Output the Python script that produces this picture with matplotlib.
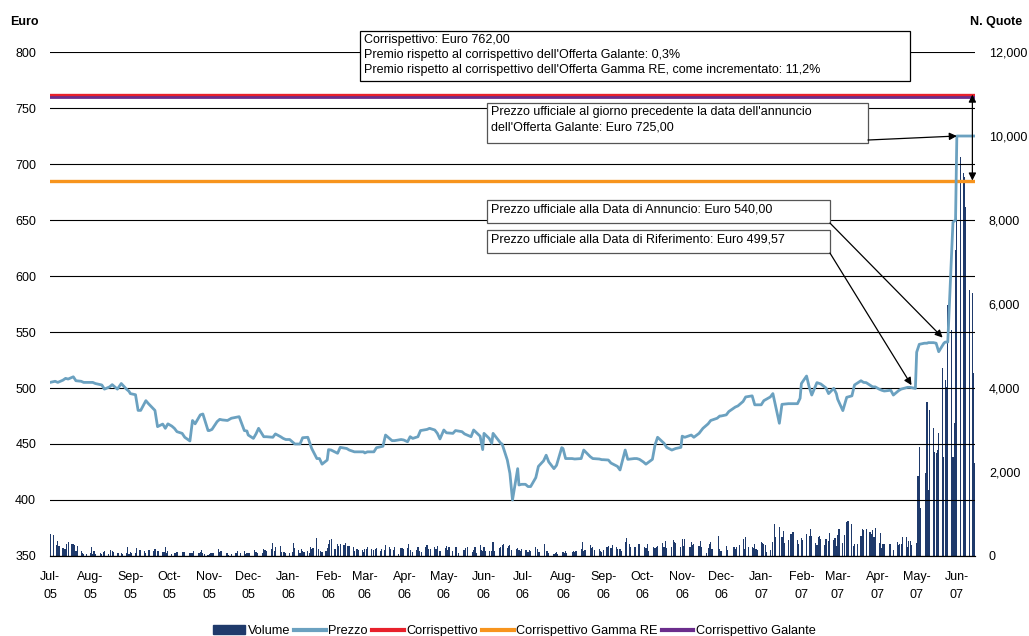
import numpy as np
import pandas as pd
import matplotlib
matplotlib.use("Agg")
import matplotlib.pyplot as plt
import matplotlib.patches as mpatches
from matplotlib.lines import Line2D

plt.rcParams['font.family'] = ['Liberation Sans', 'DejaVu Sans']

# ---- data -----------------------------------------------------------------
month_starts = pd.date_range('2005-07-01', periods=24, freq='MS')
data_end = pd.Timestamp('2007-06-15')
month_labels = ['Jul-\n05', 'Aug-\n05', 'Sep-\n05', 'Oct-\n05', 'Nov-\n05', 'Dec-\n05',
                'Jan-\n06', 'Feb-\n06', 'Mar-\n06', 'Apr-\n06', 'May-\n06', 'Jun-\n06',
                'Jul-\n06', 'Aug-\n06', 'Sep-\n06', 'Oct-\n06', 'Nov-\n06', 'Dec-\n06',
                'Jan-\n07', 'Feb-\n07', 'Mar-\n07', 'Apr-\n07', 'May-\n07', 'Jun-\n07']

# official price (Euro), values spread over the trading days of each month
prezzo = [
    [505, 506, 505, 507, 508.6, 508, 510, 506.5, 506, 505, 505],
    [505, 505, 504, 502.7, 499, 501, 503, 499, 504, 499, 497],
    [495, 494, 480, 480, 488.7, 486, 480, 465.5, 467.8, 464, 468],
    [466, 464, 461, 459.5, 456, 452.7, 471, 468, 476, 476.8, 462],
    [462, 463, 470, 472, 471.5, 471, 473, 474, 474.4, 462, 461.6],
    [458, 455, 459, 464, 456.5, 456.5, 456, 459, 456.5, 455, 454],
    [454, 452, 450, 450, 455.6, 456, 446, 437, 437, 432, 435.7],
    [445, 444.6, 441.7, 447, 446, 444.6, 443, 443, 443],
    [442, 443, 443, 446.7, 448, 458, 453, 453, 454, 453.6],
    [452, 456.5, 455, 456.5, 462, 463, 464, 462.5, 459.5, 454.5],
    [462.5, 460, 459.5, 462, 461, 459, 456.5, 462.5, 457, 445],
    [459.5, 455, 450.6, 459.5, 453.6, 450.6, 450, 435.7, 423.8, 400, 428, 413.4, 414],
    [414, 412, 412, 420, 430, 435, 440, 434, 428, 431, 446.7],
    [446, 437, 437, 436.6, 437, 444.6, 438.7, 437, 436.6, 436],
    [436, 435.7, 433, 430, 426.8, 444.6, 436.3, 437, 437, 436.3],
    [434, 432, 436.3, 449, 456, 450.6, 447, 444.6, 446, 447],
    [457, 456, 458, 456, 459.5, 464, 468, 471, 473, 475],
    [475, 476, 479, 483, 484, 488, 492, 493, 485, 485],
    [485, 488.7, 492, 495, 468.5, 485.4, 486, 486, 486, 490.8],
    [504, 510.7, 501, 493.7, 504.8, 503.6, 500, 495, 499.7, 495],
    [490, 479.8, 491.7, 493, 502.7, 506.5, 505, 504.8, 501, 501],
    [499, 498, 497.3, 498, 493.7, 497.6, 499, 500.6, 500.6, 499.57],
    [532, 539, 540, 540, 540.5, 540.5, 540, 532.4, 540, 541, 541, 648, 650],
    [725, 725, 725, 725, 725, 725, 725, 725, 725, 725, 725],
]

# traded volume (N. Quote), one value per trading day of each month
volume = [
    [520, 500, 0, 250, 360, 240, 190, 170, 170, 290, 330, 290, 290, 260, 120, 240, 120, 70, 50, 0, 50],
    [60, 210, 50, 120, 50, 0, 70, 50, 100, 120, 50, 0, 140, 120, 100, 70, 70, 0, 70, 50, 70, 210, 40],
    [100, 70, 70, 190, 0, 140, 140, 120, 70, 0, 140, 140, 120, 170, 0, 120, 120, 100, 100, 210, 70, 120],
    [50, 0, 70, 70, 100, 0, 100, 100, 100, 0, 70, 70, 70, 120, 0, 70, 100, 140, 70, 50, 30],
    [50, 70, 70, 70, 0, 170, 100, 120, 0, 70, 70, 30, 0, 50, 70, 70, 120, 0, 70, 120, 50, 60],
    [70, 70, 0, 140, 100, 70, 0, 70, 170, 140, 120, 0, 170, 310, 120, 210, 0, 240, 100, 100, 100, 80],
    [70, 0, 100, 310, 190, 140, 70, 170, 120, 100, 120, 70, 210, 170, 190, 430, 170, 0, 120, 100, 120, 190],
    [290, 380, 400, 170, 0, 290, 240, 290, 260, 310, 0, 240, 240, 210, 120, 0, 170, 140, 140, 100],
    [170, 170, 210, 170, 0, 140, 170, 190, 120, 170, 0, 140, 260, 210, 170, 0, 140, 210, 50, 0, 190, 190, 170],
    [190, 290, 140, 0, 100, 140, 210, 120, 0, 100, 210, 260, 170, 0, 170, 210, 170, 240, 0, 120, 120],
    [0, 190, 240, 140, 210, 120, 0, 210, 210, 70, 0, 140, 140, 190, 210, 0, 100, 140, 210, 70, 260, 140, 120],
    [210, 120, 120, 0, 120, 330, 120, 0, 190, 210, 260, 290, 190, 240, 260, 140, 0, 170, 190, 140, 120, 170],
    [140, 140, 100, 140, 120, 0, 210, 170, 100, 100, 0, 290, 120, 120, 70, 0, 50, 70, 100, 50, 0],
    [100, 70, 120, 70, 0, 100, 120, 100, 120, 0, 170, 330, 120, 140, 0, 260, 190, 210, 140, 0, 170, 120, 90],
    [140, 210, 240, 0, 190, 260, 210, 170, 0, 170, 120, 330, 430, 0, 290, 210, 210, 210, 0, 290, 290],
    [0, 210, 190, 290, 120, 0, 210, 190, 210, 240, 0, 310, 210, 360, 190, 0, 210, 380, 330, 310, 0, 210],
    [400, 240, 400, 0, 210, 330, 260, 290, 0, 240, 360, 210, 0, 70, 190, 290, 330, 170, 0, 0, 480, 170],
    [120, 0, 240, 140, 0, 0, 210, 170, 210, 0, 260, 400, 170, 450, 0, 210, 210, 190, 290, 170, 140],
    [330, 310, 290, 260, 100, 140, 0, 330, 760, 450, 690, 0, 450, 600, 310, 380, 0, 520, 570, 570, 380, 290],
    [430, 380, 520, 0, 480, 640, 480, 310, 260, 450, 480, 400, 260, 400, 0, 360, 550, 380, 430, 240],
    [500, 640, 310, 500, 0, 810, 830, 760, 240, 290, 0, 290, 480, 640, 620, 0, 640, 570, 520, 620, 450, 670],
    [310, 550, 190, 290, 290, 0, 290, 290, 0, 140, 330, 260, 290, 290, 450, 450, 210, 360, 360, 260],
    [300, 1900, 2600, 1150, 0, 1980, 3670, 1570, 3480, 3050, 2480, 2450, 2520, 2930, 4480, 2360, 4190,
     4020, 5980, 5380, 2360, 3170, 7290],
    [9620, 9500, 0, 9120, 9020, 8300, 6330, 0, 6260, 4360, 2210],
]

corrispettivo = 762.00
corrispettivo_gamma = 685.25
corrispettivo_galante = 759.70

# ---- build date series ------------------------------------------------------
p_dates, p_vals, v_dates, v_vals = [], [], [], []
for i, ms in enumerate(month_starts):
    me = min(ms + pd.offsets.MonthEnd(0), data_end)
    bdays = pd.bdate_range(ms, me)
    idx = np.linspace(0, len(bdays) - 1, len(prezzo[i])).round().astype(int)
    p_dates.extend(bdays[idx])
    p_vals.extend(prezzo[i])
    n = min(len(bdays), len(volume[i]))
    v_dates.extend(bdays[:n])
    v_vals.extend(volume[i][:n])

navy = '#1f3a6b'
c_prezzo = '#6ba1c0'
c_red = '#e8212b'
c_orange = '#f7941d'
c_purple = '#6b2d8c'

fig = plt.figure(figsize=(10.29, 6.36), dpi=100)
ax = fig.add_axes([0.0486, 0.1258, 0.8989, 0.7924])
ax2 = ax.twinx()

ax2.bar(v_dates, v_vals, width=0.9, color=navy, linewidth=0)
ax2.set_ylim(0, 12000)
ax2.set_yticks(np.arange(0, 12001, 2000))
ax2.set_yticklabels(['0', '2,000', '4,000', '6,000', '8,000', '10,000', '12,000'])

ax.set_zorder(ax2.get_zorder() + 1)
ax.patch.set_visible(False)

ax.axhline(corrispettivo_gamma, color=c_orange, lw=2.4, zorder=3)
ax.axhline(corrispettivo, color=c_red, lw=2.4, zorder=3)
ax.axhline(corrispettivo_galante, color=c_purple, lw=2.0, zorder=3)
ax.plot(p_dates, p_vals, color=c_prezzo, lw=2.0, zorder=4)

ax.set_ylim(350, 800)
ax.set_yticks(np.arange(350, 801, 50))
ax.yaxis.grid(True, color='black', lw=0.8)
ax.set_axisbelow(True)
ax.set_xlim(pd.Timestamp('2005-07-01'), data_end)
ax.set_xticks(month_starts)
ax.set_xticklabels(month_labels, fontsize=9, linespacing=1.6)

for a in (ax, ax2):
    for s in ('left', 'right', 'top'):
        a.spines[s].set_visible(False)
    a.spines['bottom'].set_color('black')
    a.tick_params(length=0, labelsize=9)
ax.tick_params(axis='x', pad=11)
ax.tick_params(axis='y', pad=10)
ax2.tick_params(axis='y', pad=10)

fig.text(0.010, 0.965, 'Euro', fontsize=9, fontweight='bold', va='center')
fig.text(0.943, 0.965, 'N. Quote', fontsize=9, fontweight='bold', va='center')

# ---- annotation boxes ---------------------------------------------------------
boxes = [
    (0.3351, 0.9425, 0.5946, 0.0992, 'black',
     "Corrispettivo: Euro 762,00\nPremio rispetto al corrispettivo dell'Offerta Galante: 0,3%\n"
     "Premio rispetto al corrispettivo dell'Offerta Gamma RE, come incrementato: 11,2%"),
    (0.4724, 0.8194, 0.4119, 0.0794, '#555555',
     "Prezzo ufficiale al giorno precedente la data dell'annuncio\ndell'Offerta Galante: Euro 725,00"),
    (0.4724, 0.6607, 0.3708, 0.0456, '#555555',
     "Prezzo ufficiale alla Data di Annuncio: Euro 540,00"),
    (0.4724, 0.6012, 0.3708, 0.0456, '#555555',
     "Prezzo ufficiale alla Data di Riferimento: Euro 499,57"),
]
for x0, y0, w, h, ec, txt in boxes:
    ax.add_patch(mpatches.Rectangle((x0, y0), w, h, transform=ax.transAxes, facecolor='white',
                                    edgecolor=ec, lw=0.9, clip_on=False, zorder=6))
    ax.text(x0 + 0.004, y0 + h - 0.006, txt, transform=ax.transAxes, fontsize=9,
            va='top', ha='left', linespacing=1.35, zorder=7)

arr = dict(arrowstyle='-|>', color='black', lw=0.9, mutation_scale=11, shrinkA=0, shrinkB=0)
ax.annotate('', xy=(pd.Timestamp('2007-06-01'), 725), xycoords='data',
            xytext=(0.8843, 0.8254), textcoords='axes fraction', arrowprops=arr, zorder=8)
ax.annotate('', xy=(pd.Timestamp('2007-05-21'), 545), xycoords='data',
            xytext=(0.8432, 0.6607), textcoords='axes fraction', arrowprops=arr, zorder=8)
ax.annotate('', xy=(pd.Timestamp('2007-04-27'), 502.5), xycoords='data',
            xytext=(0.8432, 0.6012), textcoords='axes fraction', arrowprops=arr, zorder=8)
ax.annotate('', xy=(pd.Timestamp('2007-06-13'), corrispettivo_gamma), xycoords='data',
            xytext=(pd.Timestamp('2007-06-13'), corrispettivo), textcoords='data',
            arrowprops=dict(arrowstyle='<|-|>', color='black', lw=0.9, mutation_scale=11,
                            shrinkA=0, shrinkB=0), zorder=8)

# ---- legend -------------------------------------------------------------------
handles = [mpatches.Patch(color=navy),
           Line2D([], [], color=c_prezzo, lw=3),
           Line2D([], [], color=c_red, lw=3),
           Line2D([], [], color=c_orange, lw=3),
           Line2D([], [], color=c_purple, lw=3)]
labels = ['Volume', 'Prezzo', 'Corrispettivo', 'Corrispettivo Gamma RE', 'Corrispettivo Galante']
fig.legend(handles, labels, loc='lower center', bbox_to_anchor=(0.5, -0.02), ncol=5,
           frameon=False, fontsize=9.2, handlelength=2.5, handletextpad=0.2, columnspacing=0.3)

fig.savefig('out.png', dpi=100)
